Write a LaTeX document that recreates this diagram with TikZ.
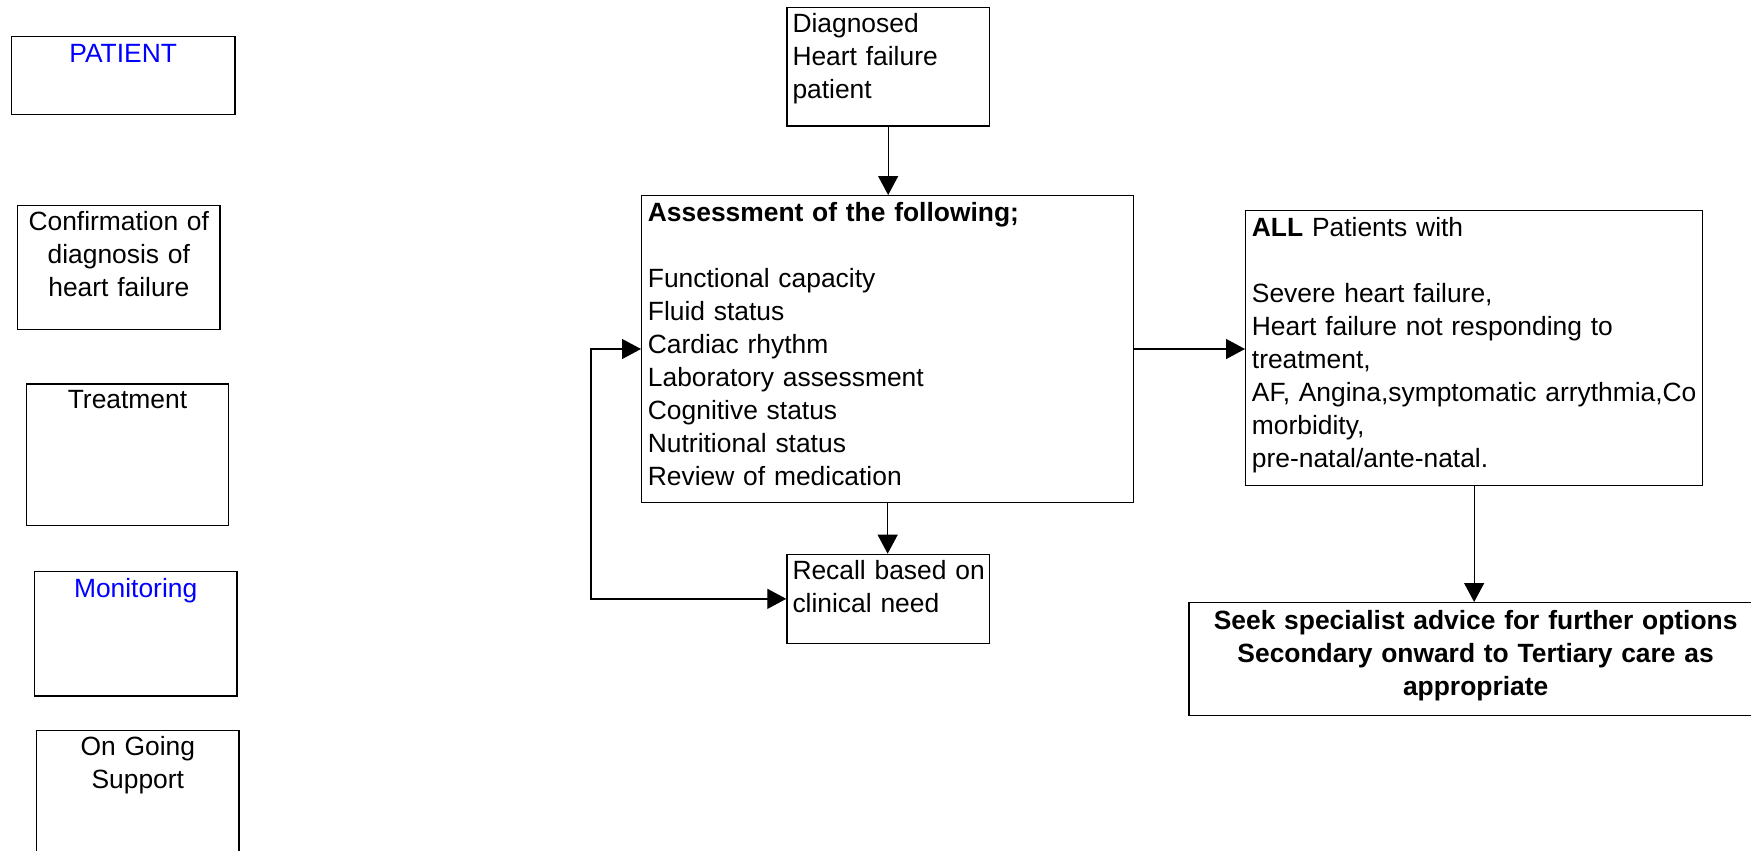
\documentclass[tikz,border=0pt]{standalone}
\usepackage{fontspec}
\setmainfont{Liberation Sans}
\usetikzlibrary{arrows.meta}
\begin{document}
\begin{tikzpicture}[x=1pt,y=-1pt,
  box/.style={draw, line width=1.3pt, inner sep=0pt, anchor=north west},
  txt/.style={inner sep=0pt, font=\fontsize{26.4pt}{33pt}\selectfont},
  ctxt/.style={txt, anchor=north, align=center},
  ltxt/.style={txt, anchor=north west, align=left, text width=520pt},
  tipa/.tip={Triangle[length=19pt,width=20pt]},
  arr/.style={line width=1.3pt, -tipa},
  darr/.style={line width=1.3pt, tipa-tipa},
]
\useasboundingbox (0,0) rectangle (1751,851);

% left column
\node[box, minimum width=223.6pt, minimum height=77.7pt]  (patient) at (10.7,36) {};
\node[box, minimum width=202.3pt, minimum height=124.3pt] (confirm) at (17,204.7) {};
\node[box, minimum width=202.3pt, minimum height=141.4pt] (treat)   at (25.7,383.3) {};
\node[box, minimum width=202.6pt, minimum height=124.6pt] (monitor) at (33.7,570.7) {};
\node[box, minimum width=202.3pt, minimum height=140pt]   (ongoing) at (36,730) {};

\node[ctxt, text width=220pt, text=blue] (patient-t) at (patient.north) {\rule{0pt}{26.3pt}PATIENT};
\node[ctxt, text width=200pt] (confirm-t) at (confirm.north) {\rule{0pt}{26pt}Confirmation of\\diagnosis of\\heart failure};
\node[ctxt, text width=200pt] (treat-t) at (treat.north) {\rule{0pt}{25pt}Treatment};
\node[ctxt, text width=200pt, text=blue] (monitor-t) at (monitor.north) {\rule{0pt}{26.6pt}Monitoring};
\node[ctxt, text width=200pt] (ongoing-t) at (ongoing.north) {\rule{0pt}{25.5pt}On Going\\Support};

% flow
\node[box, minimum width=202.4pt, minimum height=118.6pt] (diag)   at (786.3,6.7) {};
\node[box, minimum width=492pt,   minimum height=306.7pt] (assess) at (641,195) {};
\node[box, minimum width=202.4pt, minimum height=89pt]    (recall) at (786.3,553.7) {};
\node[box, minimum width=457pt,   minimum height=274.5pt] (all)    at (1245,210) {};
\node[box, minimum width=573.4pt, minimum height=113pt]   (seek)   at (1188.3,602) {};

\node[ltxt] (diag-t) at ([xshift=6pt]diag.north west)
  {\rule{0pt}{26pt}Diagnosed\\Heart failure\\patient};
\node[ltxt] (assess-t) at ([xshift=6.7pt]assess.north west)
  {\rule{0pt}{26.7pt}\textbf{Assessment of the following;}\\[33pt]
   Functional capacity\\Fluid status\\Cardiac rhythm\\Laboratory assessment\\
   Cognitive status\\Nutritional status\\Review of medication};
\node[ltxt] (recall-t) at ([xshift=6pt]recall.north west)
  {\rule{0pt}{25.8pt}Recall based on\\clinical need};
\node[ltxt] (all-t) at ([xshift=6.7pt]all.north west)
  {\rule{0pt}{26.7pt}\textbf{ALL} Patients with\\[33pt]
   Severe heart failure,\\Heart failure not responding to\\treatment,\\
   AF, Angina,symptomatic arrythmia,Co\\morbidity,\\pre-natal/ante-natal.};
\node[ctxt, text width=600pt, font=\fontsize{26.4pt}{33pt}\selectfont\bfseries] (seek-t) at (seek.north)
  {\rule{0pt}{27.5pt}Seek specialist advice for further options\\Secondary onward to Tertiary care as\\appropriate};

% connectors
\coordinate (loopx) at (591,598);
\draw[arr] (diag.south) -- (diag.south |- assess.north);
\draw[arr] (assess.south) -- (assess.south |- recall.north);
\draw[arr] (assess.east) -- (assess.east -| all.west);
\draw[arr] (all.south) -- (all.south |- seek.north);
\draw[darr] (assess.west) -- (assess.west -| loopx) |- (recall.west);
\end{tikzpicture}
\end{document}
